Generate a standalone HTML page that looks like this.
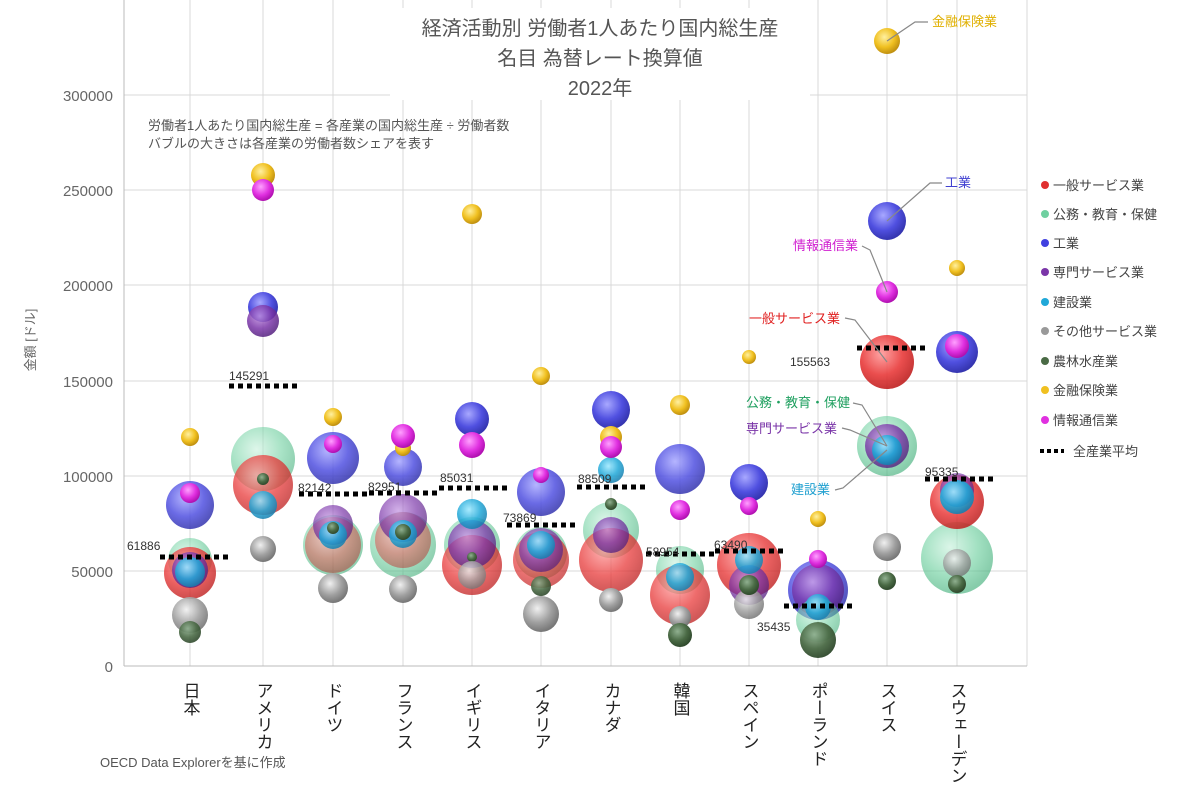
<!DOCTYPE html>
<html><head><meta charset="utf-8"><style>
body{margin:0;background:#fff;}
svg text{font-family:"Liberation Sans","Noto Sans CJK JP",sans-serif;}
</style></head><body>
<svg width="1200" height="783" viewBox="0 0 1200 783" xmlns="http://www.w3.org/2000/svg">
<defs>
<radialGradient id="g0" cx="0.4" cy="0.35" r="0.65"><stop offset="0" stop-color="#ff9a9a"/><stop offset="0.6" stop-color="#e83a3a"/><stop offset="1" stop-color="#c02020"/></radialGradient>
<radialGradient id="g1" cx="0.4" cy="0.35" r="0.65"><stop offset="0" stop-color="#c8f0dc"/><stop offset="0.6" stop-color="#6fd0a0"/><stop offset="1" stop-color="#45b07c"/></radialGradient>
<radialGradient id="g2" cx="0.4" cy="0.35" r="0.65"><stop offset="0" stop-color="#a8a8ff"/><stop offset="0.6" stop-color="#5050e0"/><stop offset="1" stop-color="#3535b0"/></radialGradient>
<radialGradient id="g3" cx="0.4" cy="0.35" r="0.65"><stop offset="0" stop-color="#c090e0"/><stop offset="0.6" stop-color="#7a35a8"/><stop offset="1" stop-color="#552080"/></radialGradient>
<radialGradient id="g4" cx="0.4" cy="0.35" r="0.65"><stop offset="0" stop-color="#9ae8ff"/><stop offset="0.6" stop-color="#20a8d8"/><stop offset="1" stop-color="#1580b0"/></radialGradient>
<radialGradient id="g5" cx="0.4" cy="0.35" r="0.65"><stop offset="0" stop-color="#f0f0f0"/><stop offset="0.6" stop-color="#a0a0a0"/><stop offset="1" stop-color="#777"/></radialGradient>
<radialGradient id="g6" cx="0.4" cy="0.35" r="0.65"><stop offset="0" stop-color="#90b090"/><stop offset="0.6" stop-color="#4a6a45"/><stop offset="1" stop-color="#304a2d"/></radialGradient>
<radialGradient id="g7" cx="0.4" cy="0.35" r="0.65"><stop offset="0" stop-color="#fff0a0"/><stop offset="0.6" stop-color="#f0c020"/><stop offset="1" stop-color="#c09010"/></radialGradient>
<radialGradient id="g8" cx="0.4" cy="0.35" r="0.65"><stop offset="0" stop-color="#ffa0ff"/><stop offset="0.6" stop-color="#e030e0"/><stop offset="1" stop-color="#b010b0"/></radialGradient>
</defs>
<!-- grid -->
<g stroke="#d8d8d8" stroke-width="1">
<line x1="124" y1="95" x2="1027" y2="95"/><line x1="124" y1="190" x2="1027" y2="190"/><line x1="124" y1="285" x2="1027" y2="285"/><line x1="124" y1="381" x2="1027" y2="381"/><line x1="124" y1="476" x2="1027" y2="476"/><line x1="124" y1="571" x2="1027" y2="571"/>
<line x1="190" y1="0" x2="190" y2="666"/><line x1="263" y1="0" x2="263" y2="666"/><line x1="333" y1="0" x2="333" y2="666"/><line x1="403" y1="0" x2="403" y2="666"/><line x1="472" y1="0" x2="472" y2="666"/><line x1="541" y1="0" x2="541" y2="666"/><line x1="611" y1="0" x2="611" y2="666"/><line x1="680" y1="0" x2="680" y2="666"/><line x1="749" y1="0" x2="749" y2="666"/><line x1="818" y1="0" x2="818" y2="666"/><line x1="887" y1="0" x2="887" y2="666"/><line x1="957" y1="0" x2="957" y2="666"/>
<line x1="1027" y1="0" x2="1027" y2="666"/>
</g>
<line x1="124" y1="666" x2="1027" y2="666" stroke="#bbb"/>
<line x1="124" y1="0" x2="124" y2="666" stroke="#bbb"/>
<!-- title box -->
<rect x="390" y="8" width="420" height="92" fill="#fff"/>
<g fill="#555" font-size="20" text-anchor="middle">
<text x="600" y="35">経済活動別 労働者1人あたり国内総生産</text>
<text x="600" y="65">名目 為替レート換算値</text>
<text x="600" y="95">2022年</text>
</g>
<g fill="#555" font-size="13"><text x="148" y="130">労働者1人あたり国内総生産 = 各産業の国内総生産 ÷ 労働者数</text><text x="148" y="148">バブルの大きさは各産業の労働者数シェアを表す</text></g>
<!-- y ticks -->
<g fill="#666" font-size="15" text-anchor="end">
<text x="113" y="101">300000</text><text x="113" y="196">250000</text><text x="113" y="291">200000</text><text x="113" y="387">150000</text><text x="113" y="482">100000</text><text x="113" y="577">50000</text><text x="113" y="672">0</text>
</g>
<text transform="translate(35,340) rotate(-90)" fill="#666" font-size="13" text-anchor="middle">金額 [ドル]</text>
<!-- bubbles -->
<g id="b">
<!-- Japan -->
<circle cx="190" cy="560" r="22" fill="url(#g1)" opacity="0.6"/><circle cx="190" cy="573" r="26" fill="url(#g0)" opacity="0.8"/><circle cx="190" cy="570" r="18" fill="url(#g3)" opacity="0.8"/><circle cx="190" cy="572" r="15" fill="url(#g4)" opacity="0.85"/><circle cx="190" cy="505" r="24" fill="url(#g2)" opacity="0.85"/><circle cx="190" cy="493" r="10" fill="url(#g8)"/><circle cx="190" cy="437" r="9" fill="url(#g7)"/><circle cx="190" cy="615" r="18" fill="url(#g5)" opacity="0.9"/><circle cx="190" cy="632" r="11" fill="url(#g6)" opacity="0.9"/>
<!-- USA -->
<circle cx="263" cy="459" r="32" fill="url(#g1)" opacity="0.6"/><circle cx="263" cy="485" r="30" fill="url(#g0)" opacity="0.75"/><circle cx="263" cy="479" r="6" fill="url(#g6)"/><circle cx="263" cy="505" r="14" fill="url(#g4)" opacity="0.85"/><circle cx="263" cy="549" r="13" fill="url(#g5)"/><circle cx="263" cy="307" r="15" fill="url(#g2)"/><circle cx="263" cy="321" r="16" fill="url(#g3)" opacity="0.85"/><circle cx="263" cy="175" r="12" fill="url(#g7)"/><circle cx="263" cy="190" r="11" fill="url(#g8)"/>
<!-- Germany -->
<circle cx="333" cy="545" r="30" fill="url(#g1)" opacity="0.6"/><circle cx="333" cy="545" r="28" fill="url(#g0)" opacity="0.45"/><circle cx="333" cy="525" r="20" fill="url(#g3)" opacity="0.7"/><circle cx="333" cy="535" r="14" fill="url(#g4)" opacity="0.85"/><circle cx="333" cy="528" r="6" fill="url(#g6)"/><circle cx="333" cy="588" r="15" fill="url(#g5)"/><circle cx="333" cy="458" r="26" fill="url(#g2)" opacity="0.85"/><circle cx="333" cy="444" r="9" fill="url(#g8)"/><circle cx="333" cy="417" r="9" fill="url(#g7)"/>
<!-- France -->
<circle cx="403" cy="545" r="33" fill="url(#g1)" opacity="0.6"/><circle cx="403" cy="540" r="28" fill="url(#g0)" opacity="0.45"/><circle cx="403" cy="518" r="24" fill="url(#g3)" opacity="0.7"/><circle cx="403" cy="534" r="14" fill="url(#g4)" opacity="0.85"/><circle cx="403" cy="532" r="8" fill="url(#g6)"/><circle cx="403" cy="589" r="14" fill="url(#g5)"/><circle cx="403" cy="467" r="19" fill="url(#g2)" opacity="0.85"/><circle cx="403" cy="448" r="8" fill="url(#g7)"/><circle cx="403" cy="436" r="12" fill="url(#g8)"/>
<!-- UK -->
<circle cx="472" cy="545" r="28" fill="url(#g1)" opacity="0.6"/><circle cx="472" cy="565" r="30" fill="url(#g0)" opacity="0.75"/><circle cx="472" cy="544" r="24" fill="url(#g3)" opacity="0.75"/><circle cx="472" cy="514" r="15" fill="url(#g4)" opacity="0.85"/><circle cx="472" cy="557" r="5" fill="url(#g6)"/><circle cx="472" cy="575" r="14" fill="url(#g5)" opacity="0.8"/><circle cx="472" cy="419" r="17" fill="url(#g2)"/><circle cx="472" cy="445" r="13" fill="url(#g8)"/><circle cx="472" cy="214" r="10" fill="url(#g7)"/>
<!-- Italy -->
<circle cx="541" cy="553" r="26" fill="url(#g1)" opacity="0.6"/><circle cx="541" cy="560" r="28" fill="url(#g0)" opacity="0.7"/><circle cx="541" cy="550" r="22" fill="url(#g3)" opacity="0.7"/><circle cx="541" cy="545" r="14" fill="url(#g4)" opacity="0.85"/><circle cx="541" cy="586" r="10" fill="url(#g6)" opacity="0.9"/><circle cx="541" cy="614" r="18" fill="url(#g5)"/><circle cx="541" cy="492" r="24" fill="url(#g2)" opacity="0.85"/><circle cx="541" cy="475" r="8" fill="url(#g8)"/><circle cx="541" cy="376" r="9" fill="url(#g7)"/>
<!-- Canada -->
<circle cx="611" cy="530" r="28" fill="url(#g1)" opacity="0.6"/><circle cx="611" cy="560" r="32" fill="url(#g0)" opacity="0.75"/><circle cx="611" cy="535" r="18" fill="url(#g3)" opacity="0.75"/><circle cx="611" cy="470" r="13" fill="url(#g4)" opacity="0.85"/><circle cx="611" cy="504" r="6" fill="url(#g6)"/><circle cx="611" cy="600" r="12" fill="url(#g5)"/><circle cx="611" cy="410" r="19" fill="url(#g2)"/><circle cx="611" cy="437" r="11" fill="url(#g7)"/><circle cx="611" cy="447" r="11" fill="url(#g8)"/>
<!-- Korea -->
<circle cx="680" cy="570" r="24" fill="url(#g1)" opacity="0.6"/><circle cx="680" cy="595" r="30" fill="url(#g0)" opacity="0.75"/><circle cx="680" cy="577" r="14" fill="url(#g4)" opacity="0.85"/><circle cx="680" cy="617" r="11" fill="url(#g5)"/><circle cx="680" cy="635" r="12" fill="url(#g6)"/><circle cx="680" cy="469" r="25" fill="url(#g2)" opacity="0.85"/><circle cx="680" cy="510" r="10" fill="url(#g8)"/><circle cx="680" cy="405" r="10" fill="url(#g7)"/>
<!-- Spain -->
<circle cx="749" cy="565" r="32" fill="url(#g0)" opacity="0.8"/><circle cx="749" cy="585" r="20" fill="url(#g3)" opacity="0.75"/><circle cx="749" cy="560" r="14" fill="url(#g4)" opacity="0.85"/><circle cx="749" cy="604" r="15" fill="url(#g5)" opacity="0.85"/><circle cx="749" cy="585" r="10" fill="url(#g6)"/><circle cx="749" cy="483" r="19" fill="url(#g2)"/><circle cx="749" cy="506" r="9" fill="url(#g8)"/><circle cx="749" cy="357" r="7" fill="url(#g7)"/>
<!-- Poland -->
<circle cx="818" cy="590" r="30" fill="url(#g2)" opacity="0.85"/><circle cx="818" cy="590" r="26" fill="url(#g3)" opacity="0.75"/><circle cx="818" cy="620" r="22" fill="url(#g1)" opacity="0.6"/><circle cx="818" cy="607" r="13" fill="url(#g4)" opacity="0.85"/><circle cx="818" cy="640" r="18" fill="url(#g6)" opacity="0.95"/><circle cx="818" cy="559" r="9" fill="url(#g8)"/><circle cx="818" cy="519" r="8" fill="url(#g7)"/>
<!-- Switzerland -->
<circle cx="887" cy="446" r="30" fill="url(#g1)" opacity="0.65"/><circle cx="887" cy="446" r="22" fill="url(#g3)" opacity="0.8"/><circle cx="887" cy="450" r="15" fill="url(#g4)" opacity="0.9"/><circle cx="887" cy="362" r="27" fill="url(#g0)" opacity="0.9"/><circle cx="887" cy="292" r="11" fill="url(#g8)"/><circle cx="887" cy="221" r="19" fill="url(#g2)"/><circle cx="887" cy="41" r="13" fill="url(#g7)"/><circle cx="887" cy="547" r="14" fill="url(#g5)"/><circle cx="887" cy="581" r="9" fill="url(#g6)"/>
<!-- Sweden -->
<circle cx="957" cy="558" r="36" fill="url(#g1)" opacity="0.65"/><circle cx="957" cy="502" r="27" fill="url(#g0)" opacity="0.85"/><circle cx="957" cy="490" r="17" fill="url(#g3)" opacity="0.7"/><circle cx="957" cy="497" r="17" fill="url(#g4)" opacity="0.9"/><circle cx="957" cy="563" r="14" fill="url(#g5)" opacity="0.8"/><circle cx="957" cy="584" r="9" fill="url(#g6)"/><circle cx="957" cy="352" r="21" fill="url(#g2)"/><circle cx="957" cy="346" r="12" fill="url(#g8)"/><circle cx="957" cy="268" r="8" fill="url(#g7)"/>
</g>
<!-- averages -->
<g stroke="#000" stroke-width="5" stroke-dasharray="5,4">
<line x1="160" y1="557" x2="228" y2="557"/><line x1="229" y1="386" x2="297" y2="386"/><line x1="299" y1="494" x2="367" y2="494"/><line x1="369" y1="493" x2="437" y2="493"/><line x1="439" y1="488" x2="507" y2="488"/><line x1="507" y1="525" x2="575" y2="525"/><line x1="577" y1="487" x2="645" y2="487"/><line x1="646" y1="554" x2="714" y2="554"/><line x1="715" y1="551" x2="783" y2="551"/><line x1="784" y1="606" x2="852" y2="606"/><line x1="857" y1="348" x2="925" y2="348"/><line x1="925" y1="479" x2="993" y2="479"/>
</g>
<g fill="#333" font-size="12">
<text x="127" y="550">61886</text><text x="229" y="380">145291</text><text x="298" y="492">82142</text><text x="368" y="491">82951</text><text x="440" y="482">85031</text><text x="503" y="522">73869</text><text x="578" y="483">88509</text><text x="646" y="556">58954</text><text x="714" y="549">63490</text><text x="757" y="631">35435</text><text x="790" y="366">155563</text><text x="925" y="476">95335</text>
</g>
<!-- callouts -->
<g stroke="#888" fill="none" stroke-width="1.2">
<polyline points="887,41 915,22 928,22"/><polyline points="887,221 930,183 942,183"/><polyline points="887,292 870,250 862,246"/><polyline points="887,362 855,320 845,318"/><polyline points="887,446 862,405 853,403"/><polyline points="887,446 850,430 842,428"/><polyline points="887,450 843,488 835,490"/>
</g>
<g font-size="13">
<text x="932" y="26" fill="#e0b000">金融保険業</text><text x="945" y="187" fill="#4040d0">工業</text><text x="858" y="250" fill="#d020d0" text-anchor="end">情報通信業</text><text x="840" y="323" fill="#e02020" text-anchor="end">一般サービス業</text><text x="850" y="407" fill="#20a060" text-anchor="end">公務・教育・保健</text><text x="837" y="433" fill="#7a35a8" text-anchor="end">専門サービス業</text><text x="830" y="494" fill="#20a0d0" text-anchor="end">建設業</text>
</g>
<!-- legend -->
<g font-size="13" fill="#444">
<circle cx="1045" cy="185" r="4" fill="#e03030"/><text x="1053" y="190">一般サービス業</text>
<circle cx="1045" cy="214" r="4" fill="#6fd0a0"/><text x="1053" y="219">公務・教育・保健</text>
<circle cx="1045" cy="243" r="4" fill="#4040e0"/><text x="1053" y="248">工業</text>
<circle cx="1045" cy="272" r="4" fill="#7a35a8"/><text x="1053" y="277">専門サービス業</text>
<circle cx="1045" cy="302" r="4" fill="#20a8d8"/><text x="1053" y="307">建設業</text>
<circle cx="1045" cy="331" r="4" fill="#999"/><text x="1053" y="336">その他サービス業</text>
<circle cx="1045" cy="361" r="4" fill="#4a6a45"/><text x="1053" y="366">農林水産業</text>
<circle cx="1045" cy="390" r="4" fill="#f0c020"/><text x="1053" y="395">金融保険業</text>
<circle cx="1045" cy="420" r="4" fill="#e030e0"/><text x="1053" y="425">情報通信業</text>
<line x1="1040" y1="451" x2="1064" y2="451" stroke="#000" stroke-width="4" stroke-dasharray="4,3"/><text x="1073" y="456">全産業平均</text>
</g>
<!-- x labels -->
<g fill="#222" font-size="17" style="writing-mode:vertical-rl">
<text x="190" y="682">日本</text><text x="263" y="682">アメリカ</text><text x="333" y="682">ドイツ</text><text x="403" y="682">フランス</text><text x="472" y="682">イギリス</text><text x="541" y="682">イタリア</text><text x="611" y="682">カナダ</text><text x="680" y="682">韓国</text><text x="749" y="682">スペイン</text><text x="818" y="682">ポーランド</text><text x="887" y="682">スイス</text><text x="957" y="682">スウェーデン</text>
</g>
<text x="100" y="767" fill="#555" font-size="13">OECD Data Explorerを基に作成</text>
</svg>
</body></html>
